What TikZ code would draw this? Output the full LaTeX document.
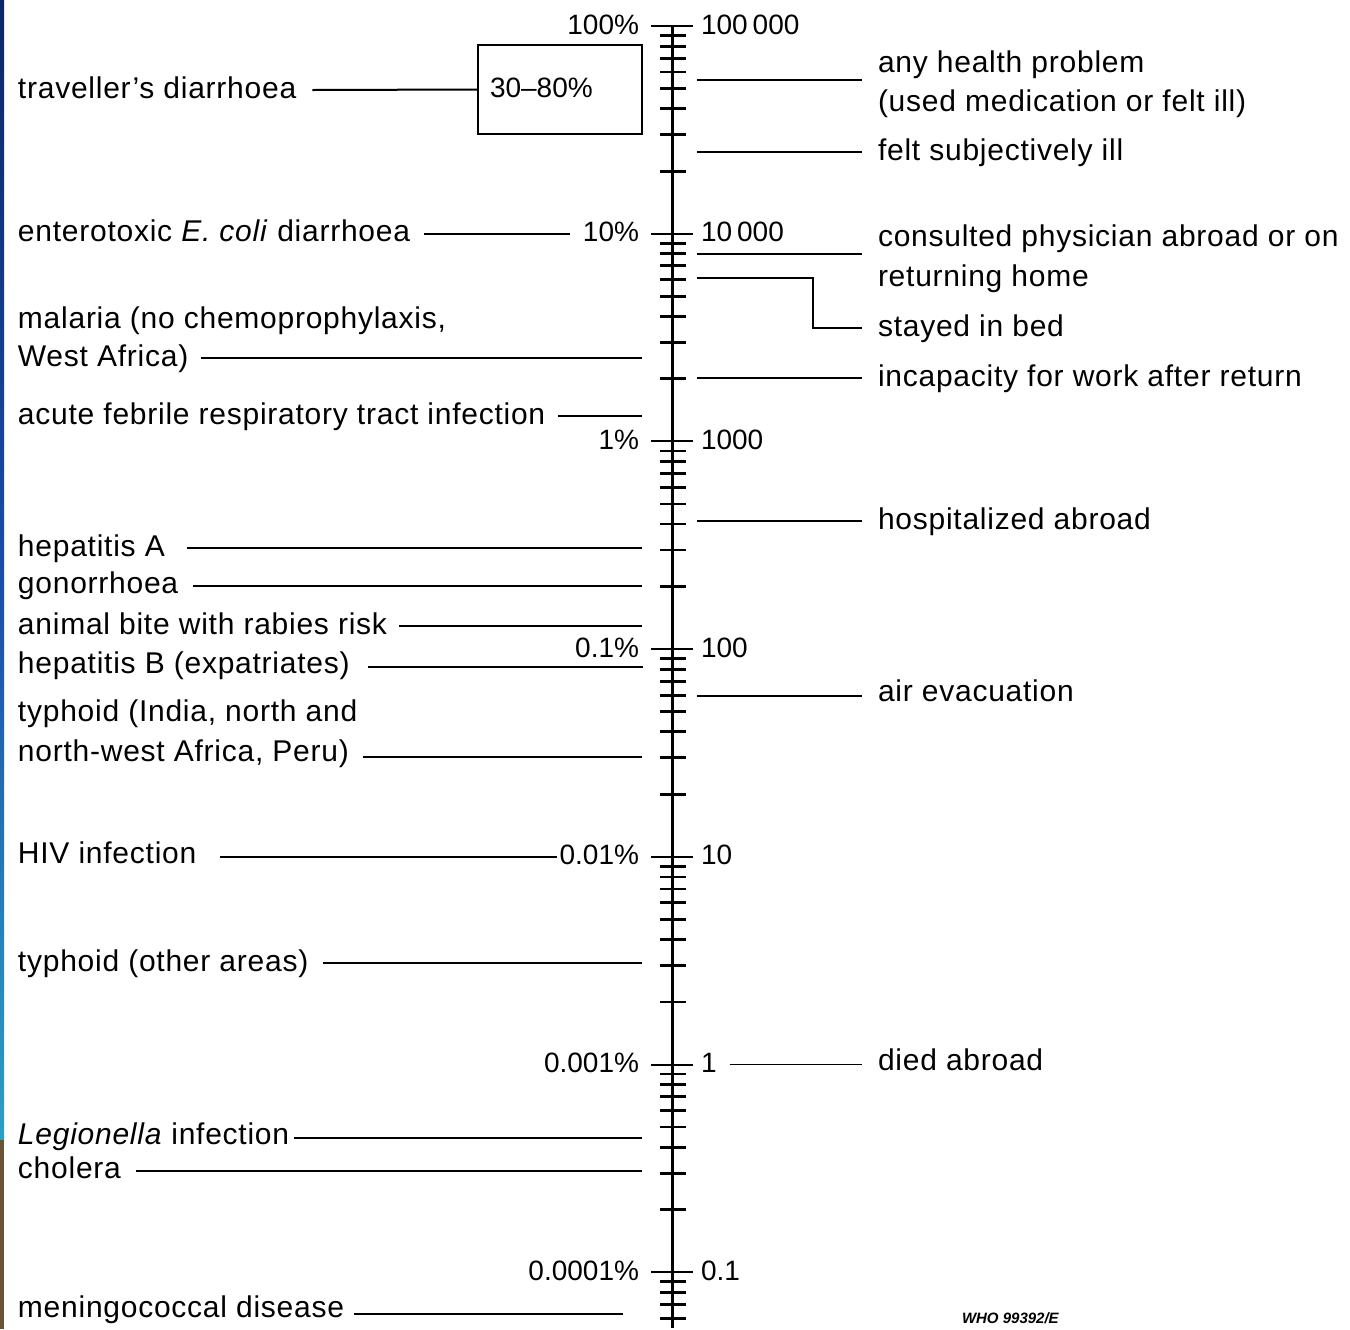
\documentclass[tikz,border=0pt]{standalone}
\usepackage{fontspec}
\setmainfont{Liberation Sans}[LetterSpace=2.5]
\newfontfamily\numfont{Liberation Sans}
\definecolor{stripA}{RGB}{14,38,104}
\definecolor{stripB}{RGB}{26,76,168}
\definecolor{stripC}{RGB}{44,160,196}
\definecolor{stripD}{RGB}{104,84,52}
\begin{document}
\begin{tikzpicture}[x=0.5pt,y=-0.5pt,
  every node/.style={inner sep=0pt, outer sep=0pt},
  lbl/.style={font=\fontsize{15}{18}\selectfont, text height=8pt, text depth=0pt},
  nlbl/.style={font=\numfont\fontsize{14}{17}\selectfont, text height=8pt, text depth=0pt},
  lft/.style={lbl, anchor=west},
  pct/.style={nlbl, anchor=east},
  num/.style={nlbl, anchor=west},
  ll/.style={line width=1pt},
  rl/.style={line width=0.7pt},
  thickl/.style={line width=1.4pt},
  axisline/.style={line width=1.5pt},
  major/.style={line width=1pt},
  minor/.style={line width=1.4pt}]
\useasboundingbox (0,0) rectangle (1350,1329);
\fill[white] (0,0) rectangle (1350,1329);
% left edge strip
\shade[top color=stripA, bottom color=stripC, middle color=stripB] (0,0) rectangle (4,1140);
\fill[stripD] (0,1140) rectangle (4,1329);

% axis
\coordinate (axTop) at (672,26);
\coordinate (axBot) at (672,1328);
\draw[axisline] (axTop) -- (axBot);
\foreach \k in {0,...,6} {
  \pgfmathsetmacro\yd{26+207.7*\k}
  \draw[major] (651,\yd) -- (693,\yd);
  \foreach \v in {2,...,9} {
    \pgfmathsetmacro\yt{26+207.7*(\k+1-log10(\v))}
    \ifdim\yt pt<1328pt \draw[minor] (660,\yt) -- (686,\yt); \fi
  }
}

% scale labels
\node[pct] (p100) at (639,26) {100\%};
\node[pct] (p10) at (639,233.7) {10\%};
\node[pct] (p1) at (639,441.4) {1\%};
\node[pct] (p01) at (639,649.1) {0.1\%};
\node[pct] (p001) at (639,856.8) {0.01\%};
\node[pct] (p0001) at (639,1064.5) {0.001\%};
\node[pct] (p00001) at (639,1272.2) {0.0001\%};
\node[num] (n100000) at (701,26) {100\hspace{0.18em}000};
\node[num] (n10000) at (701,233.7) {10\hspace{0.18em}000};
\node[num] (n1000) at (701,441.4) {1000};
\node[num] (n100) at (701,649.1) {100};
\node[num] (n10) at (701,856.8) {10};
\node[num] (n1) at (701,1064.5) {1};
\node[num] (n01) at (701,1272.2) {0.1};

% box
\node[draw, line width=1pt, nlbl, anchor=north west, minimum height=44.5pt,
      text width=70pt, inner xsep=6pt, align=left] (box) at (478,45) {30–80\%};

% left labels
\node[lft] (trav) at (18,90) {traveller's diarrhoea};
\node[lft] (ecoli) at (18,233.7) {enterotoxic \textit{E. coli} diarrhoea};
\node[lft] (mal1) at (18,320) {malaria (no chemoprophylaxis,};
\node[lft] (mal2) at (18,358) {West Africa)};
\node[lft] (acute) at (18,416) {acute febrile respiratory tract infection};
\node[lft] (hepA) at (18,548) {hepatitis A};
\node[lft] (gon) at (18,585) {gonorrhoea};
\node[lft] (bite) at (18,626) {animal bite with rabies risk};
\node[lft] (hepB) at (18,665) {hepatitis B (expatriates)};
\node[lft] (ty1) at (18,713) {typhoid (India, north and};
\node[lft] (ty2) at (18,753) {north-west Africa, Peru)};
\node[lft] (hiv) at (18,855) {HIV infection};
\node[lft] (tyo) at (18,963) {typhoid (other areas)};
\node[lft] (leg) at (18,1136) {\textit{Legionella} infection};
\node[lft] (chol) at (18,1170) {cholera};
\node[lft] (men) at (18,1309) {meningococcal disease};

% left line ends
\coordinate (malE) at (642,358);
\coordinate (acuteE) at (642,416);
\coordinate (hepAE) at (642,548);
\coordinate (gonE) at (642,586);
\coordinate (biteE) at (642,626);
\coordinate (hepBE) at (643,667);
\coordinate (tyE) at (642,757);
\coordinate (tyoE) at (642,963);
\coordinate (legE) at (642,1138);
\coordinate (cholE) at (642,1171);
\coordinate (menE) at (623,1314);

\draw[ll] ([xshift=8pt]trav.east) -- (box.west);
\draw[ll] ([xshift=7pt]ecoli.east) -- ([xshift=-6.5pt]p10.west);
\draw[ll] ([xshift=6.5pt]mal2.east |- malE) -- (malE);
\draw[ll] ([xshift=6.5pt]acute.east |- acuteE) -- (acuteE);
\draw[ll] ([xshift=11pt]hepA.east |- hepAE) -- (hepAE);
\draw[ll] ([xshift=7.5pt]gon.east |- gonE) -- (gonE);
\draw[ll] ([xshift=6pt]bite.east |- biteE) -- (biteE);
\draw[ll] ([xshift=9pt]hepB.east |- hepBE) -- (hepBE);
\draw[ll] ([xshift=7pt]ty2.east |- tyE) -- (tyE);
\draw[ll] ([xshift=12pt]hiv.east |- p001.west) -- ([xshift=-1.5pt]p001.west);
\draw[ll] ([xshift=7.5pt]tyo.east |- tyoE) -- (tyoE);
\draw[ll] ([xshift=2.5pt]leg.east |- legE) -- (legE);
\draw[ll] ([xshift=7.5pt]chol.east |- cholE) -- (cholE);
\draw[ll] ([xshift=5pt]men.east |- menE) -- (menE);

% right labels
\node[lft] (ahp1) at (878,64) {any health problem};
\node[lft] (ahp2) at (878,103) {(used medication or felt ill)};
\node[lft] (fsi) at (878,152) {felt subjectively ill};
\node[lft] (cp1) at (878,238) {consulted physician abroad or on};
\node[lft] (cp2) at (878,278) {returning home};
\node[lft] (sib) at (878,328) {stayed in bed};
\node[lft] (inc) at (878,378) {incapacity for work after return};
\node[lft] (hosp) at (878,521) {hospitalized abroad};
\node[lft] (air) at (878,693) {air evacuation};
\node[lft] (died) at (878,1062) {died abroad};

\coordinate (ahpS) at (697,80);
\coordinate (fsiS) at (697,152);
\coordinate (cpS) at (697,254);
\coordinate (sibS) at (697,278);
\coordinate (incS) at (697,378);
\coordinate (hospS) at (697,521);
\coordinate (airS) at (697,696);

\draw[rl] (ahpS) -- ([xshift=-8pt]ahpS -| ahp1.west);
\draw[rl] (fsiS) -- ([xshift=-8pt]fsiS -| fsi.west);
\draw[thickl] (cpS) -- ([xshift=-8pt]cpS -| cp1.west);
\draw[rl] (sibS) -- ++(116,0) |- ([xshift=-8pt]sib.west);
\draw[rl] (incS) -- ([xshift=-8pt]incS -| inc.west);
\draw[rl] (hospS) -- ([xshift=-8pt]hospS -| hosp.west);
\draw[rl] (airS) -- ([xshift=-8pt]airS -| air.west);
\draw[rl] ([xshift=6.5pt]n1.east) -- ([xshift=-8pt]n1.east -| died.west);

% code
\node[anchor=west, font=\numfont\fontsize{7.5}{9}\selectfont\bfseries\itshape] (who) at (962,1318) {WHO 99392/E};
\end{tikzpicture}
\end{document}
